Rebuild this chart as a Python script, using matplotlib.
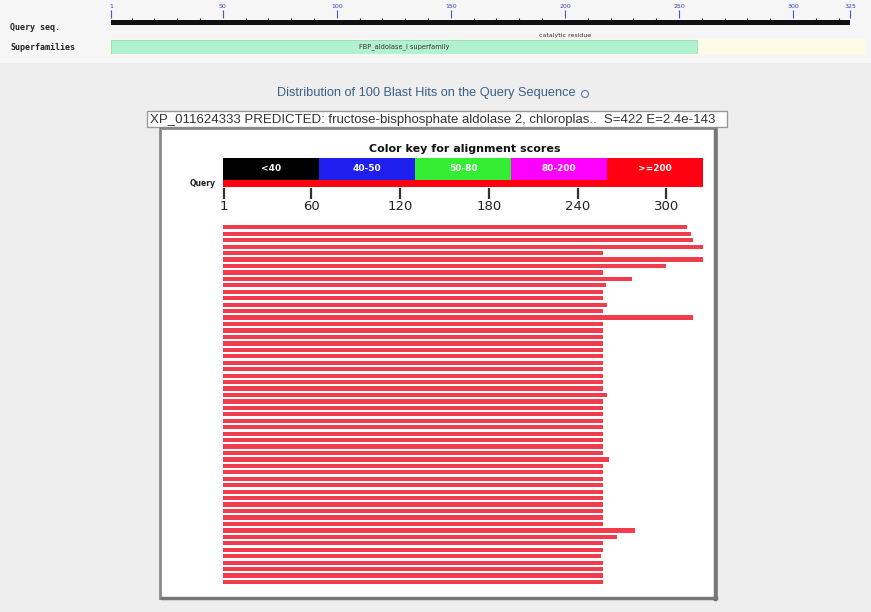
import matplotlib
matplotlib.use("Agg")
import matplotlib.pyplot as plt
from matplotlib.patches import Rectangle, Circle

# ---------------- data ----------------
QLEN = 325
ruler_ticks = [1, 50, 100, 150, 200, 250, 300, 325]
superfamily_name = "FBP_aldolase_I superfamily"
superfamily_start = 1
superfamily_end = 258
site_label = "catalytic residue"
site_pos = 200

key_labels = ["<40", "40-50", "50-80", "80-200", ">=200"]
key_colors = ["#000000", "#1f1fef", "#33ee33", "#ff00ff", "#ff0010"]
axis_ticks = [1, 60, 120, 180, 240, 300]

hit_starts = [0] * 56
hit_ends = [314, 317, 318, 325, 257, 325, 300, 257, 277, 259,
            257, 257, 260, 257, 318, 257, 257, 257, 257, 257,
            257, 257, 257, 257, 257, 257, 260, 257, 257, 257,
            257, 257, 257, 257, 257, 257, 261, 257, 257, 257,
            257, 257, 257, 257, 257, 257, 257, 279, 267, 257,
            257, 256, 257, 257, 257, 257]

title = "Distribution of 100 Blast Hits on the Query Sequence"
description = "XP_011624333 PREDICTED: fructose-bisphosphate aldolase 2, chloroplas..  S=422 E=2.4e-143"

# ---------------- layout helpers ----------------
W, H = 871, 612
fig = plt.figure(figsize=(W / 100, H / 100), dpi=100)
fig.patch.set_facecolor("#eeeeee")


def fbox(x0, y0, x1, y1):
    return [x0 / W, 1 - y1 / H, (x1 - x0) / W, (y1 - y0) / H]


bg = fig.add_axes([0, 0, 1, 1], zorder=0)
bg.set_xlim(0, W)
bg.set_ylim(H, 0)
bg.axis("off")

# top band
bg.add_patch(Rectangle((0, 0), W, 63, color="#f6f6f6", lw=0))
bg.add_patch(Rectangle((108, 39), 758, 16, color="#fbfbe8", lw=0))
bg.text(10, 28, "Query seq.", fontsize=6, family="DejaVu Sans Mono",
        weight="bold", color="#222222", va="center")
bg.text(10, 47, "Superfamilies", fontsize=6, family="DejaVu Sans Mono",
        weight="bold", color="#222222", va="center")

# title + description
bg.text(426, 93, title, fontsize=9.2, family="Liberation Sans",
        color="#3a5f8a", ha="center", va="center")
bg.add_patch(Circle((585, 94), 3.5, fill=False, ec="#5577aa", lw=0.8))
bg.add_patch(Rectangle((147, 111), 580, 16, fc="white", ec="#999999", lw=1))
bg.text(150, 119.5, description, fontsize=9.5, family="Liberation Sans",
        color="#333333", va="center")

# main white panel
bg.add_patch(Rectangle((160, 128), 556, 470, fc="white", ec="#8a8a8a", lw=2))
bg.plot([715, 715], [130, 599], color="#777777", lw=2.5)
bg.plot([162, 716], [598, 598], color="#777777", lw=2.5)
bg.text(465, 149, "Color key for alignment scores", fontsize=8,
        weight="bold", color="#111111", ha="center", va="center")
bg.text(216, 183.5, "Query", fontsize=5.5, weight="bold", color="#222222",
        ha="right", va="center")

# ---------------- top ruler ----------------
ax_r = fig.add_axes(fbox(111, 18, 850, 27), zorder=2)
ax_r.set_facecolor("none")
ax_r.set_xlim(1, QLEN)
ax_r.set_ylim(0, 1)
ax_r.barh([0.45], [QLEN - 1], left=1, height=0.55, color="#111111")
for s in ax_r.spines.values():
    s.set_visible(False)
ax_r.set_yticks([])
ax_r.xaxis.tick_top()
ax_r.set_xticks(ruler_ticks)
ax_r.set_xticklabels([str(t) for t in ruler_ticks])
ax_r.set_xticks(list(range(10, QLEN, 10)), minor=True)
ax_r.tick_params(axis="x", which="major", direction="out", length=6,
                 width=0.8, color="#5050dd", labelsize=4.5,
                 labelcolor="#4040cc", pad=0.5)
ax_r.tick_params(axis="x", which="minor", direction="in", length=4,
                 width=0.8, color="#111111", top=True, bottom=False)
ax_r.text(site_pos, -0.9, site_label, fontsize=4.5, color="#333333",
          ha="center", va="center")

# superfamily
ax_s = fig.add_axes(fbox(111, 40, 850, 54), zorder=2)
ax_s.set_facecolor("none")
ax_s.set_xlim(1, QLEN)
ax_s.set_ylim(0, 1)
ax_s.axis("off")
ax_s.barh([0.5], [superfamily_end - superfamily_start],
          left=superfamily_start, height=1.0, color="#b2f2d0",
          edgecolor="#8fdcb4", lw=0.6)
ax_s.text((superfamily_start + superfamily_end) / 2, 0.55, superfamily_name,
          fontsize=4.8, color="#333333", ha="center", va="center")

# ---------------- colour key ----------------
ax_k = fig.add_axes(fbox(222.8, 158, 703.2, 187.5), zorder=2)
ax_k.set_facecolor("none")
ax_k.set_xlim(0, QLEN)
ax_k.set_ylim(1, 0)
seg = QLEN / len(key_labels)
for i, (lab, col) in enumerate(zip(key_labels, key_colors)):
    ax_k.barh([0.37], [seg], left=i * seg, height=0.74, color=col)
    ax_k.text(i * seg + seg / 2, 0.37, lab, color="white", fontsize=6.5,
              weight="bold", ha="center", va="center")
ax_k.barh([0.87], [QLEN], left=0, height=0.26, color="#ff0010")
for s in ax_k.spines.values():
    s.set_visible(False)
ax_k.set_yticks([])
ax_k.set_xticks(axis_ticks)
ax_k.set_xticklabels([str(t) for t in axis_ticks])
ax_k.tick_params(axis="x", direction="out", length=8, width=1.6,
                 color="#333333", labelsize=9.5, labelcolor="#222222", pad=1)

# ---------------- hits ----------------
n = len(hit_ends)
ax_h = fig.add_axes(fbox(222.8, 224.1, 703.2, 585.2), zorder=2)
ax_h.set_facecolor("none")
ax_h.set_xlim(0, QLEN)
ax_h.set_ylim(n - 0.5, -0.5)
ax_h.barh(range(n), [e - s for s, e in zip(hit_starts, hit_ends)],
          left=hit_starts, height=0.66, color="#f03c4c")
ax_h.axis("off")

fig.savefig("out.png", dpi=100, facecolor=fig.get_facecolor())
